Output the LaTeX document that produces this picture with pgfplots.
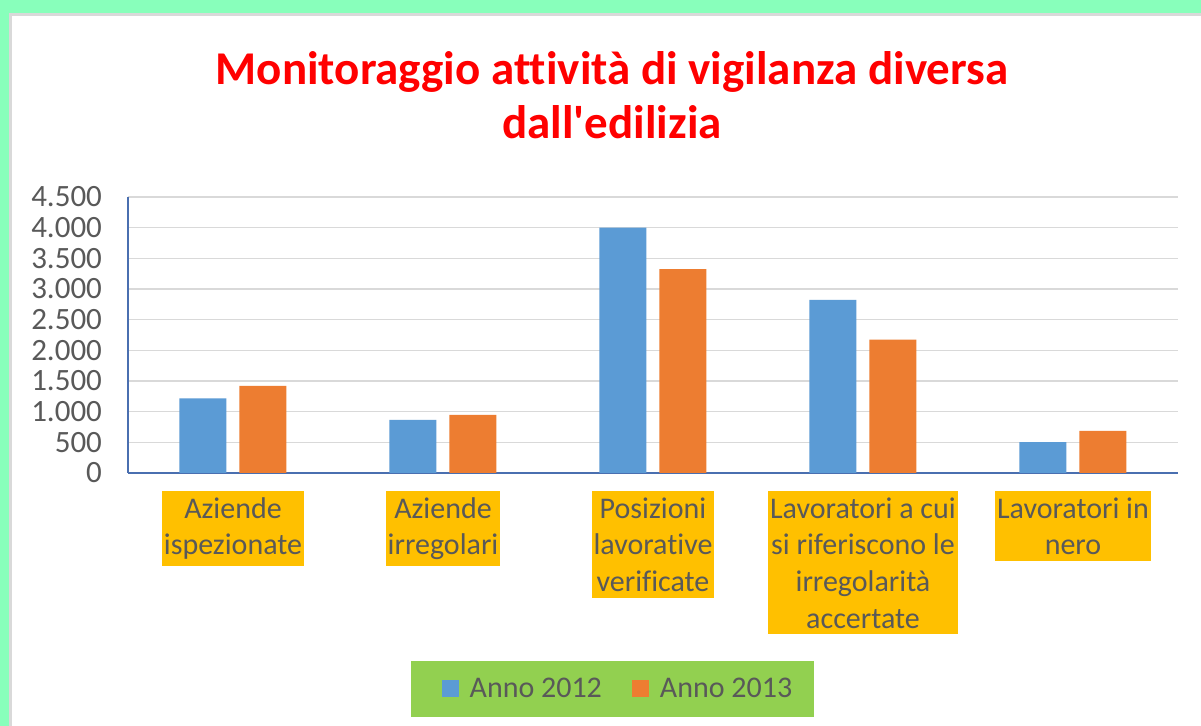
\documentclass[border=0pt]{standalone}
\usepackage{fontspec}
\setmainfont{Carlito}[Ligatures={NoCommon,TeXOff}]
\usepackage{pgfplots}
\pgfplotsset{compat=1.18}
\definecolor{bgreen}{HTML}{88FFBB}
\definecolor{bgray}{HTML}{D9D9D9}
\definecolor{sblue}{HTML}{5B9BD5}
\definecolor{sorange}{HTML}{ED7D31}
\definecolor{lblbox}{HTML}{FFC000}
\definecolor{legbox}{HTML}{92D050}
\definecolor{txt}{HTML}{595959}
\definecolor{axblue}{HTML}{4A6FB0}
\begin{document}
\begin{tikzpicture}
\begin{scope}[x=0.5pt,y=0.5pt]
\useasboundingbox (0,0) rectangle (1201,726);
\fill[bgreen] (0,0) rectangle (1201,726);
\fill[bgray] (9,0) rectangle (1201,713);
\fill[white] (12,0) rectangle (1201,710);
\node[anchor=base, text=red, inner sep=0pt, font=\fontsize{23.5}{27}\selectfont\bfseries] at (612,641) {Monitoraggio attività di vigilanza diversa};
\node[anchor=base, text=red, inner sep=0pt, font=\fontsize{23.5}{27}\selectfont\bfseries] at (612,587) {dall'edilizia};
\end{scope}
\begin{axis}[
  at={(64pt,126.5pt)}, anchor=south west,
  width=525pt, height=138pt, scale only axis,
  xmin=-0.5, xmax=4.5, ymin=0, ymax=4500,
  ytick={0,500,...,4500},
  xtick={0,1,2,3,4},
  xticklabels={{Aziende\\ispezionate},{Aziende\\irregolari},{Posizioni\\lavorative\\verificate},{Lavoratori a cui\\si riferiscono le\\irregolarità\\accertate},{Lavoratori in\\nero}},
  xticklabel style={fill=lblbox, text=txt, align=center, anchor=north, inner xsep=1pt, inner ysep=3pt, yshift=-9pt, font=\fontsize{15}{18.35}\selectfont},
  yticklabel style={text=txt, font=\fontsize{15.5}{18}\selectfont, xshift=-9.5pt},
  major tick length=0pt,
  axis lines*=left,
  axis line style={axblue, line width=0.75pt},
  ymajorgrids, major grid style={bgray, line width=0.8pt},
  ybar=6.5pt, bar width=23.5pt,
  scaled y ticks=false,
  /pgf/number format/1000 sep={.},
  /pgf/number format/assume math mode=true,
  legend style={at={(0.4614,-0.7826)}, anchor=center, fill=legbox, draw=none,
    legend columns=2, font=\fontsize{15}{18}\selectfont, text=txt,
    inner xsep=9pt, inner ysep=6.5pt,
    /tikz/every even column/.append style={column sep=6.5pt}},
]
\addplot[fill=sblue, draw=none, legend image code/.code={\path (-6.5pt,0pt) (12pt,0pt);\fill[sblue] (0pt,-4.25pt) rectangle (8.5pt,4.25pt);}]
  coordinates {(0,1217) (1,867) (2,4000) (3,2824) (4,505)};
\addplot[fill=sorange, draw=none, legend image code/.code={\path (-6.5pt,0pt) (12pt,0pt);\fill[sorange] (0pt,-4.25pt) rectangle (8.5pt,4.25pt);}]
  coordinates {(0,1422) (1,948) (2,3323) (3,2174) (4,685)};
\legend{Anno 2012, Anno 2013}
\end{axis}
\end{tikzpicture}
\end{document}
